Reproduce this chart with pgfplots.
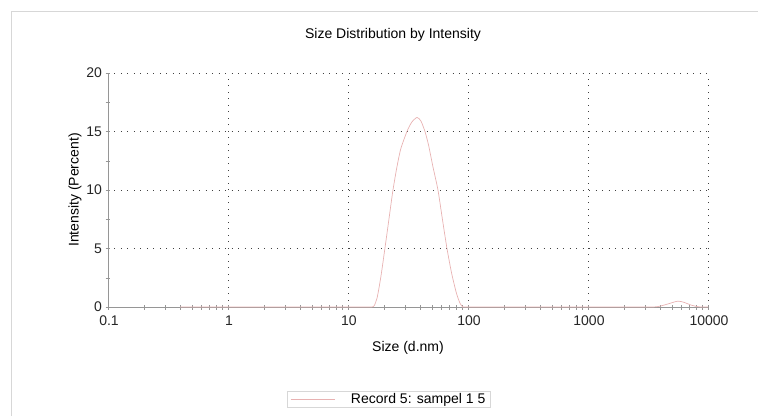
\documentclass[border=0pt]{standalone}
\usepackage{pgfplots}
\pgfplotsset{compat=1.18}
\usepackage{fontspec}
\setmainfont{Liberation Sans}
\definecolor{curve}{RGB}{232,178,178}
\definecolor{axgray}{RGB}{150,150,150}
\definecolor{framegray}{RGB}{215,215,215}
\begin{document}
\begin{tikzpicture}[x=1pt,y=1pt]
\useasboundingbox (0,0) rectangle (758,416);
\draw[framegray,line width=0.8pt] (11,0) -- (11,405) -- (758,405);
\node[font=\fontsize{14}{16}\selectfont] at (393,381) {Size Distribution by Intensity};
\node[font=\fontsize{14}{16}\selectfont] at (408,68) {Size (d.nm)};
\node[font=\fontsize{14}{16}\selectfont,rotate=90] at (75,226) {Intensity (Percent)};
\begin{axis}[
  at={(108pt,109pt)}, anchor=south west,
  scale only axis, width=600pt, height=234pt,
  xmode=log, xmin=0.1, xmax=10000, ymin=0, ymax=20,
  axis lines*=left,
  axis line style={axgray, line width=0.6pt},
  xtick={0.1,1,10,100,1000,10000},
  xticklabels={0.1,1,10,100,1000,10000},
  ytick={0,5,10,15,20},
  minor ytick={2.5,7.5,12.5,17.5},
  tick style={axgray, line width=0.5pt},
  tick align=center,
  major tick length=5pt, minor tick length=5pt,
  grid=major,
  major grid style={black!75, line width=0.7pt, dash pattern=on 0.7pt off 5.8pt},
  ticklabel style={font=\fontsize{14}{16}\selectfont, text=black!85},
  /pgf/number format/assume math mode=true,
  xticklabel style={yshift=-2.5pt, xshift=1pt},
  yticklabel style={xshift=0pt},
  legend style={at={(0.468,-0.395)}, anchor=center, draw=framegray, line width=0.6pt,
    font=\fontsize{14}{16}\selectfont, inner xsep=3pt, inner ysep=0pt,
    nodes={inner ysep=2pt, inner xsep=2pt}},
  legend cell align=right,
  legend image code/.code={\draw[#1] (0pt,0pt) -- (44pt,0pt); \path (58pt,0pt);},
  clip=false,
]
\addplot[color=curve, line width=0.7pt, smooth, tension=0.4] coordinates {
(0.4,0) (1,0) (5,0) (10,0) (15.5,0) (16.5,0.1) (17.5,0.8) (18.8,2.6) (20.3,5.0) (22,7.6) (23.7,10.0) (25.5,11.9) (27.5,13.5) (31.0,15.0) (34,15.8) (37.6,16.2) (40.5,15.9) (43.8,15.0) (47,13.8) (51,12.0) (56.2,10.0) (61,7.6) (66.8,5.0) (73,2.9) (80,1.2) (86,0.3) (91,0) (100,0) (500,0) (1000,0) (3300,0) (4000,0.08) (4700,0.28) (5600,0.5) (6300,0.4) (7300,0.15) (8300,0.02) (9000,0) (10000,0)
};
\addlegendentry{Record 5: sampel 1 5}
\end{axis}
\end{tikzpicture}
\end{document}
